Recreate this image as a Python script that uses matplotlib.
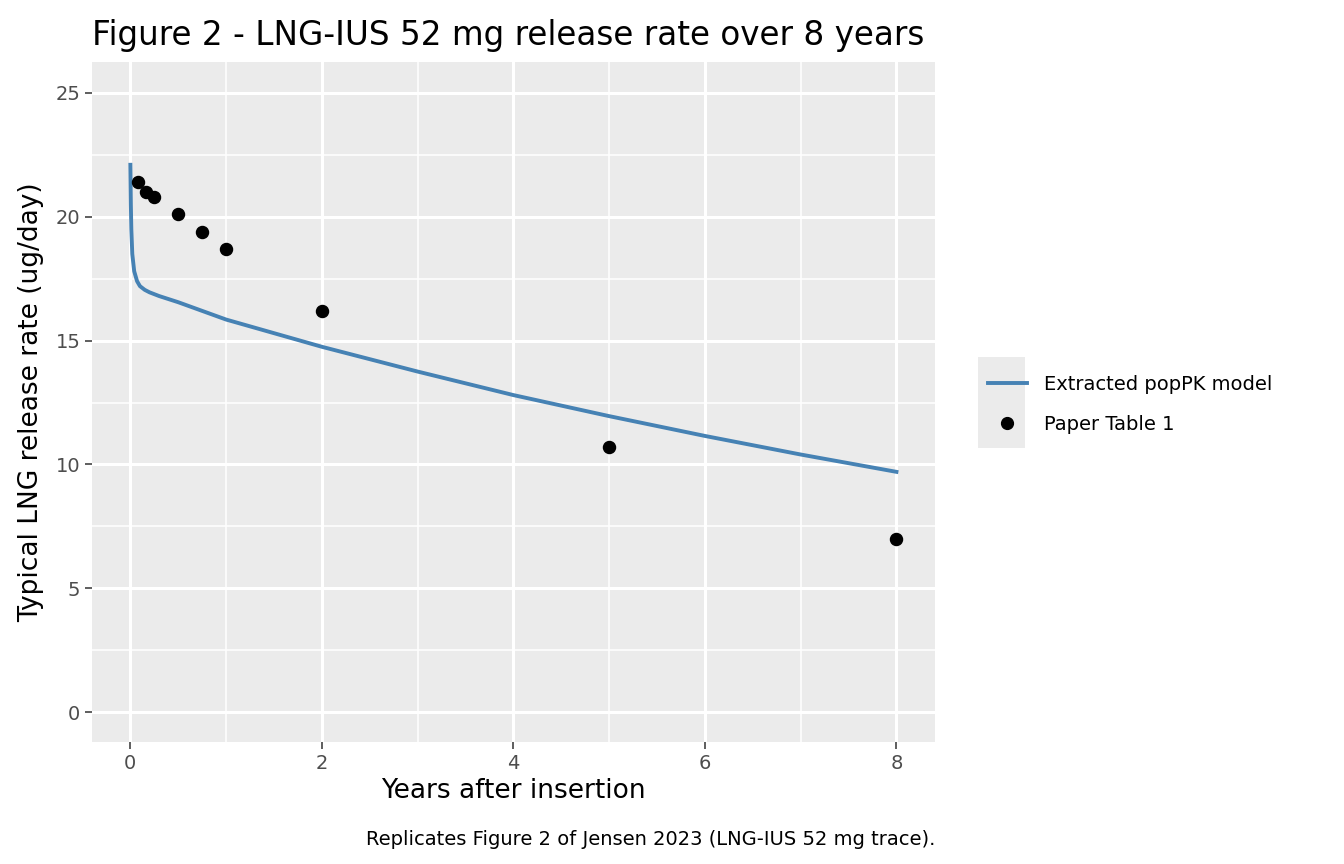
from matplotlib import pyplot as plt
from matplotlib.lines import Line2D
from matplotlib.patches import Rectangle
import numpy as np

# popPK model trace
model_years = [0, 0.005, 0.01, 0.02, 0.04, 0.07, 0.1, 0.15, 0.2, 0.3, 0.5, 0.75,
               1, 1.5, 2, 3, 4, 5, 6, 7, 8]
model_rate = [22.1, 20.5, 19.5, 18.5, 17.8, 17.4, 17.2, 17.05, 16.95, 16.8, 16.55, 16.2,
              15.85, 15.3, 14.75, 13.75, 12.8, 11.95, 11.15, 10.4, 9.7]

# Paper Table 1 points
table_years = [0.0833, 0.1667, 0.25, 0.5, 0.75, 1, 2, 5, 8]
table_rate = [21.4, 21.0, 20.8, 20.1, 19.4, 18.7, 16.2, 10.7, 7.0]


def main():
	f = plt.figure(figsize=(13.44, 8.64), dpi=100)
	ax = f.add_axes([0.0685, 0.1412, 0.627, 0.787])
	ax.set_facecolor("#EBEBEB")
	for s in ax.spines.values():
		s.set_visible(False)

	ax.set_xlim(-0.4, 8.4)
	ax.set_ylim(-1.21, 26.25)
	ax.set_xticks([0, 2, 4, 6, 8])
	ax.set_xticks([1, 3, 5, 7], minor=True)
	ax.set_yticks([0, 5, 10, 15, 20, 25])
	ax.set_yticks([2.5, 7.5, 12.5, 17.5, 22.5], minor=True)
	ax.grid(which="major", color="white", linewidth=2.2)
	ax.grid(which="minor", color="white", linewidth=1.1)
	ax.set_axisbelow(True)
	ax.tick_params(which="major", length=5, width=1.1, color="#333333",
		labelsize=14, labelcolor="#4D4D4D")
	ax.tick_params(which="minor", length=0)

	ax.plot(model_years, model_rate, color="#4682B4", linewidth=2.8, zorder=3)
	ax.scatter(table_years, table_rate, color="black", s=75, zorder=4)

	ax.set_xlabel("Years after insertion", fontsize=19, labelpad=4)
	ax.set_ylabel("Typical LNG release rate (ug/day)", fontsize=19, labelpad=8)
	f.text(0.0685, 0.948, "Figure 2 - LNG-IUS 52 mg release rate over 8 years", fontsize=23.5)
	f.text(0.6957, 0.022, "Replicates Figure 2 of Jensen 2023 (LNG-IUS 52 mg trace).",
		fontsize=14, ha="right")

	# grey legend key background, as ggplot draws it
	f.patches.append(Rectangle((978 / 1344, 1 - 448 / 864), 47 / 1344, 91 / 864,
		transform=f.transFigure, facecolor="#EBEBEB", edgecolor="none", zorder=0))
	handles = [Line2D([0], [0], color="#4682B4", linewidth=2.8),
		Line2D([0], [0], color="black", marker="o", linestyle="none", markersize=8.5)]
	f.legend(handles, ["Extracted popPK model", "Paper Table 1"],
		loc="center left", bbox_to_anchor=(0.722, 0.532), fontsize=14,
		frameon=False, handlelength=2.0, labelspacing=1.05, handletextpad=0.9)

	plt.savefig("out.png", dpi=100)


if __name__ == '__main__':
	main()
